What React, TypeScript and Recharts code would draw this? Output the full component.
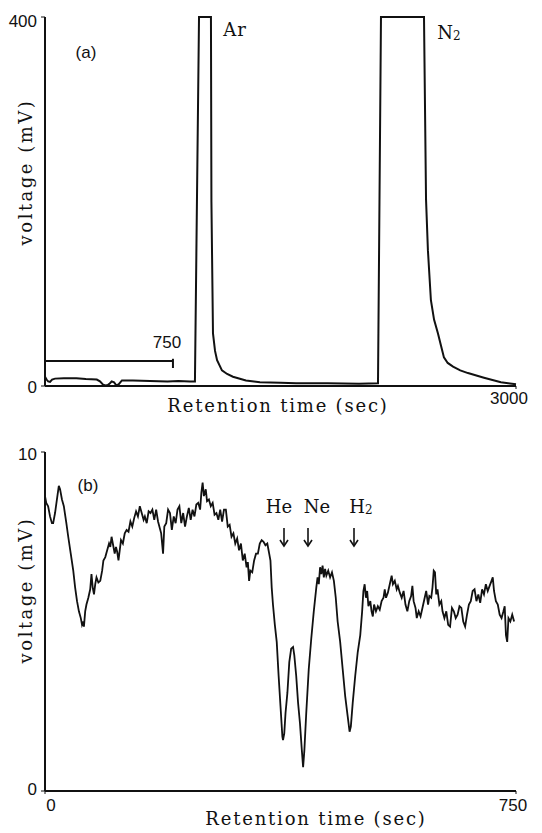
import { LineChart, Line, XAxis, YAxis, ReferenceLine } from 'recharts';

// Panel (a): full chromatogram, [time s, voltage mV]
const traceA: [number, number][] = [
  [0, 10], [10, 7], [20, 5], [32, 4.5], [45, 7], [64, 8], [120, 8.5], [200, 8.5],
  [260, 7.5], [330, 7], [350, 5], [370, 1.5], [385, 0.5], [400, 1], [414, 3],
  [425, 5], [440, 4], [455, 0.5], [470, 2], [490, 6], [560, 6], [669, 5.5],
  [780, 5], [850, 5.5], [923, 5], [955, 5],
  // Ar peak (clipped at 400)
  [981, 400], [1057, 400], [1060, 200], [1070, 57], [1083, 38], [1096, 28], [1127, 17],
  [1160, 13], [1197, 10], [1280, 6], [1369, 4], [1500, 3.5], [1600, 3], [1800, 3],
  [2000, 2.5], [2121, 3],
  // N2 peak (clipped at 400)
  [2140, 400], [2414, 400], [2427, 202], [2439, 147], [2458, 93], [2478, 72],
  [2503, 57], [2522, 44], [2541, 31], [2565, 25], [2599, 21], [2645, 17], [2694, 14],
  [2796, 9], [2904, 4], [3000, 2],
];

// Panel (b): first 750 s, expanded scale
const baselineEarly: [number, number][] = [
  [0, 8.7], [2, 8.5], [5, 8.4], [8, 8.1], [11, 7.9], [13, 7.9], [16, 8.2], [19, 8.6],
  [22, 9.0], [24, 8.9], [27, 8.6], [30, 8.4], [34, 7.9], [37, 7.5], [41, 7.0], [45, 6.5],
  [48, 6.0], [51, 5.6], [54, 5.3], [57, 5.1], [59, 4.9], [61, 5.0], [62, 4.85], [64, 5.3],
  [66, 5.5], [69, 5.7], [72, 5.95], [74, 6.4], [76, 6.0], [78, 5.8], [80, 6.1], [82, 6.3],
  [85, 6.15], [88, 6.2], [91, 6.5], [93, 6.8], [96, 6.9], [99, 7.1], [102, 7.3], [104, 7.2],
  [106, 7.5], [108, 7.3], [111, 7.0], [113, 7.2], [115, 7.05], [117, 6.8], [119, 7.1],
  [121, 7.4], [124, 7.3], [127, 7.6], [130, 7.7], [133, 7.65], [136, 7.95], [139, 7.8],
  [142, 8.05], [145, 8.25], [148, 8.1], [151, 8.4], [154, 8.2], [157, 8.0], [159, 8.1],
  [162, 7.9], [165, 8.25], [168, 8.2], [171, 8.3], [174, 8.0], [177, 8.3], [180, 7.95],
];

const baselineMid: [number, number][] = [
  [185, 7.6], [188, 7.0], [190, 7.8], [193, 7.9], [196, 8.3], [199, 8.2], [202, 7.7],
  [205, 8.1], [208, 7.9], [211, 8.3], [214, 8.4], [217, 7.9], [220, 8.2], [223, 7.8],
  [226, 8.1], [229, 8.35], [232, 8.0], [235, 8.3], [238, 8.1], [241, 8.45], [244, 8.5],
  [247, 8.3], [249, 8.8], [251, 9.1], [253, 8.7], [256, 8.9], [258, 8.55], [261, 8.6],
  [264, 8.4], [267, 8.5], [270, 8.15], [273, 8.2], [276, 8.0], [279, 8.3], [282, 7.95],
  [285, 8.3], [288, 8.3], [291, 7.8], [294, 7.85], [297, 7.5], [300, 7.6], [303, 7.3],
  [306, 7.45], [309, 7.1], [312, 7.3], [315, 6.8], [318, 7.0], [321, 6.6], [323, 6.75],
  [325, 6.2], [327, 6.5], [330, 6.45], [333, 6.8], [336, 7.0], [339, 7.0], [342, 7.3],
  [345, 7.4], [348, 7.35], [351, 7.25], [354, 7.3], [357, 7.0], [359, 6.8],
];

// He, Ne, H2 dips
const peaks: [number, number][] = [
  [361, 6.0], [363, 5.5], [366, 4.9], [369, 4.4], [372, 3.4], [375, 2.5], [378, 1.6],
  [379, 1.5], [381, 1.7], [383, 2.3], [386, 2.9], [389, 3.8], [392, 4.2], [395, 4.25],
  [397, 4.0], [400, 3.4], [403, 2.6], [406, 2.0], [409, 1.2], [411, 0.7], [413, 1.2],
  [416, 2.3], [420, 3.6], [424, 4.5], [428, 5.3], [432, 6.0], [434, 6.3], [436, 6.1],
  [438, 6.6], [440, 6.4], [442, 6.65], [444, 6.3], [446, 6.55], [448, 6.35], [451, 6.5],
  [454, 6.3], [457, 6.45], [460, 6.2], [463, 5.7], [466, 5.0], [470, 4.4], [474, 3.6],
  [478, 2.8], [482, 2.2], [485, 1.75], [487, 1.9], [490, 2.6], [494, 3.4], [498, 4.1],
  [502, 4.6], [505, 5.3], [507, 5.9], [509, 6.1],
];

const baselineLate: [number, number][] = [
  [511, 5.7], [513, 5.9], [515, 5.45], [518, 5.6], [520, 5.3], [522, 5.15], [524, 5.5],
  [527, 5.3], [530, 5.45], [533, 5.35], [536, 5.6], [539, 5.7], [541, 5.95], [543, 5.7],
  [546, 5.85], [549, 6.1], [552, 6.35], [554, 6.1], [557, 6.2], [560, 5.95], [562, 6.05],
  [565, 5.85], [568, 5.7], [571, 5.9], [574, 5.5], [577, 5.3], [580, 5.6], [583, 5.75],
  [585, 6.05], [587, 5.6], [590, 5.4], [592, 5.1], [595, 5.3], [598, 5.15], [601, 5.4],
  [604, 5.65], [607, 5.9], [610, 5.5], [612, 5.75], [615, 5.7], [617, 6.0], [619, 6.5],
  [621, 6.45], [623, 5.8], [625, 5.95], [628, 5.5], [631, 5.6], [633, 5.3], [636, 5.1],
  [639, 5.3], [642, 4.9], [645, 4.85], [648, 5.4], [651, 5.3], [654, 5.1], [657, 5.2],
  [660, 5.45], [663, 5.4], [666, 5.0], [669, 4.85], [672, 5.2], [675, 5.5], [678, 5.6],
  [681, 5.9], [684, 5.95], [687, 5.6], [690, 5.8], [693, 5.55], [696, 5.95], [699, 5.8],
  [702, 6.1], [705, 5.9], [708, 6.05], [711, 6.2], [713, 6.3], [715, 5.9], [718, 5.6],
  [721, 5.5], [724, 5.2], [727, 5.1], [730, 5.3], [732, 5.45], [734, 4.6], [736, 4.4],
  [738, 5.1], [741, 5.0], [744, 5.2], [747, 5.0],
];

const aYTicks = [0, 400];
const aXTicks = [3000];
const bYTicks = [0, 10];
const bXTicks = [0, 750];

// scale bar in (a) showing the 750 s window of (b)
const barEnd = 815;
const barLevel = 27;

const dataA = traceA.map(([t, v]) => ({ t, v }));
const dataB = [...baselineEarly, ...baselineMid, ...peaks, ...baselineLate].map(([t, v]) => ({ t, v }));

const numFont = '"Liberation Sans", Arial, sans-serif';
const serifFont = '"DejaVu Serif", serif';
const ink = '#111';

const yTick = (dyMap: Record<number, number>) => (props: any) => {
  const { x, y, payload } = props;
  return (
    <text x={x} y={y + (dyMap[payload.value] ?? 0)} textAnchor="end" dominantBaseline="central"
      fontFamily={numFont} fontSize={17} fill={ink}>
      {payload.value}
    </text>
  );
};

const xTick = (dxMap: Record<number, number>) => (props: any) => {
  const { x, y, payload } = props;
  return (
    <text x={x + (dxMap[payload.value] ?? 0)} y={y + 6} textAnchor="middle" dominantBaseline="central"
      fontFamily={numFont} fontSize={17} fill={ink}>
      {payload.value}
    </text>
  );
};

function Arrow({ x }: { x: number }) {
  return (
    <g stroke={ink} strokeWidth={1.6} fill="none">
      <line x1={x} y1={528} x2={x} y2={546} />
      <polyline points={`${x - 4},${540} ${x},${546} ${x + 4},${540}`} />
    </g>
  );
}

export default function App() {
  const axisLine = { stroke: ink, strokeWidth: 2 };
  return (
    <div style={{ position: 'absolute', left: 0, top: 0, width: 542, height: 833, background: '#fff' }}>
      <div style={{ position: 'absolute', left: 0, top: 0 }}>
        <LineChart width={542} height={420} data={dataA} margin={{ top: 17, right: 26, bottom: 0, left: 0 }}>
          <XAxis dataKey="t" type="number" domain={[0, 3000]} ticks={aXTicks} height={34}
            axisLine={axisLine} tickLine={{ stroke: ink }} tickSize={3} tickMargin={3}
            tick={xTick({ 3000: -7 })} />
          <YAxis type="number" domain={[0, 400]} ticks={aYTicks} width={45}
            axisLine={axisLine} tickLine={{ stroke: ink }} tickSize={4} tickMargin={4}
            tick={yTick({ 400: 4, 0: 1 })} />
          <ReferenceLine segment={[{ x: 0, y: barLevel }, { x: barEnd, y: barLevel }]} stroke={ink} strokeWidth={2} />
          <ReferenceLine segment={[{ x: barEnd, y: barLevel + 2.5 }, { x: barEnd, y: barLevel - 7.5 }]} stroke={ink} strokeWidth={2} />
          <Line type="linear" dataKey="v" stroke={ink} strokeWidth={2} dot={false} isAnimationActive={false} />
        </LineChart>
      </div>
      <div style={{ position: 'absolute', left: 0, top: 420 }}>
        <LineChart width={542} height={413} data={dataB} margin={{ top: 32, right: 26, bottom: 0, left: 0 }}>
          <XAxis dataKey="t" type="number" domain={[0, 750]} ticks={bXTicks} height={42}
            axisLine={axisLine} tickLine={{ stroke: ink }} tickSize={3} tickMargin={5}
            tick={xTick({ 0: 6, 750: -3 })} />
          <YAxis type="number" domain={[0, 10]} ticks={bYTicks} width={45}
            axisLine={axisLine} tickLine={{ stroke: ink }} tickSize={4} tickMargin={4}
            tick={yTick({ 10: 2, 0: -2 })} />
          <Line type="linear" dataKey="v" stroke={ink} strokeWidth={1.8} dot={false} isAnimationActive={false} />
        </LineChart>
      </div>
      <svg width={542} height={833} style={{ position: 'absolute', left: 0, top: 0, pointerEvents: 'none' }}>
        <g fill={ink}>
          {/* panel (a) */}
          <text x={86} y={52} textAnchor="middle" dominantBaseline="central" fontFamily={numFont} fontSize={17}>(a)</text>
          <text x={235} y={36} textAnchor="middle" fontFamily={serifFont} fontSize={18} letterSpacing={1}>Ar</text>
          <text x={449} y={39} textAnchor="middle" fontFamily={serifFont} fontSize={18}>
            N<tspan fontSize={12} dy={1}>2</tspan>
          </text>
          <text x={167} y={342} textAnchor="middle" dominantBaseline="central" fontFamily={numFont} fontSize={17}>750</text>
          <text transform="translate(25,172) rotate(-90)" textAnchor="middle" dominantBaseline="central"
            fontFamily={serifFont} fontSize={18} letterSpacing={2.5}>voltage (mV)</text>
          <text x={278} y={405} textAnchor="middle" dominantBaseline="central" fontFamily={serifFont} fontSize={18} letterSpacing={1.8}>
            Retention time (sec)
          </text>

          {/* panel (b) */}
          <text x={88} y={485} textAnchor="middle" dominantBaseline="central" fontFamily={numFont} fontSize={17}>(b)</text>
          <text x={279} y={513} textAnchor="middle" fontFamily={serifFont} fontSize={18}>He</text>
          <text x={317} y={513} textAnchor="middle" fontFamily={serifFont} fontSize={18}>Ne</text>
          <text x={361} y={513} textAnchor="middle" fontFamily={serifFont} fontSize={18}>
            H<tspan fontSize={12} dy={1}>2</tspan>
          </text>
          <text transform="translate(25,590) rotate(-90)" textAnchor="middle" dominantBaseline="central"
            fontFamily={serifFont} fontSize={18} letterSpacing={2.5}>voltage (mV)</text>
          <text x={316} y={818} textAnchor="middle" dominantBaseline="central" fontFamily={serifFont} fontSize={18} letterSpacing={1.8}>
            Retention time (sec)
          </text>
        </g>
        <Arrow x={284} />
        <Arrow x={308} />
        <Arrow x={354} />
      </svg>
    </div>
  );
}
